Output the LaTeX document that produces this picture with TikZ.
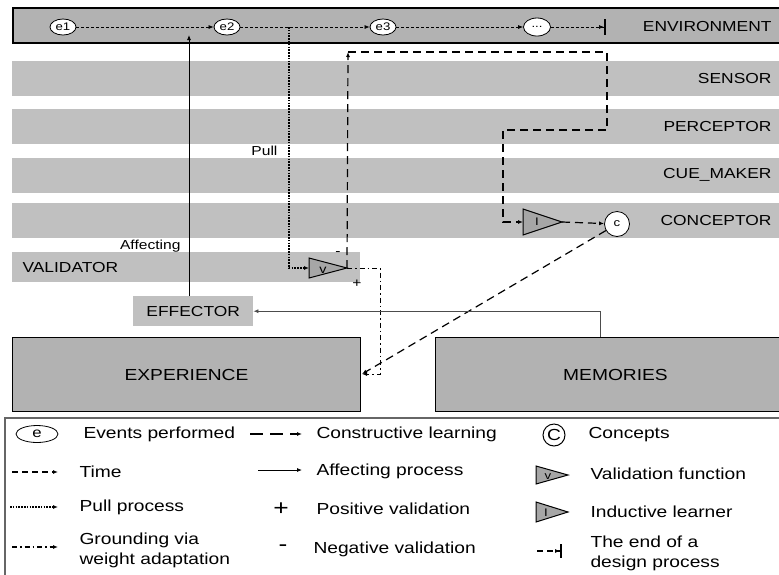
\documentclass[tikz,border=0pt]{standalone}
\usepackage{fontspec}
\setmainfont{Liberation Sans}[FakeStretch=1.2]
\usepackage{tikz}
\usetikzlibrary{arrows.meta}
\usetikzlibrary{positioning}
\usetikzlibrary{shapes.geometric}
\definecolor{darkband}{HTML}{B2B2B2}
\definecolor{lightband}{HTML}{C0C0C0}
\definecolor{trifill}{HTML}{A6A6A6}

\begin{document}
\begin{tikzpicture}[
    x=1pt, y=-1pt,
    band/.style={%
      fill=lightband,
      inner sep=0,
      anchor=north west,
      minimum width=767pt,
      minimum height=35pt,
      font=\fontsize{14.5}{16}\selectfont,
    },
    box/.style={%
      draw,
      line width=1pt,
      fill=darkband,
      inner sep=0,
      anchor=north west,
      minimum height=74pt,
      font=\fontsize{16}{18}\selectfont,
    },
    lane/.style={anchor=east, font=\fontsize{14.5}{16}\selectfont},
    event/.style={%
      draw,
      ellipse,
      fill=white,
      line width=0.8pt,
      inner sep=0,
      minimum width=26pt,
      minimum height=16pt,
      font=\fontsize{11}{12}\selectfont,
    },
    arrowhd/.style={-{Latex[length=5pt,width=4pt]}},
    time/.style={arrowhd, line width=0.7pt, dash pattern=on 3pt off 2pt},
    pull/.style={arrowhd, line width=2.2pt, dash pattern=on 1.5pt off 1.3pt},
    learn/.style={arrowhd, line width=1.2pt, dash pattern=on 8pt off 5pt},
    ground/.style={arrowhd, line width=1pt, dash pattern=on 5pt off 3pt on 1.5pt off 3pt},
    affect/.style={arrowhd, line width=0.8pt},
    tri/.style={draw, line width=1pt, fill=trifill},
    legtext/.style={anchor=west, align=left, font=\fontsize{16}{20}\selectfont},
    small/.style={font=\fontsize{13}{14}\selectfont},
  ]

    \useasboundingbox (0,0) rectangle (779,574);

    \node [box, line width=1.6pt, minimum width=780pt, minimum height=35pt] (env) at (12,7) {};
    \node [band] (sensor) at (12,61) {};
    \node [band] (perceptor) at (12,109) {};
    \node [band] (cuemaker) at (12,158) {};
    \node [band] (conceptor) at (12,203) {};
    \node [band, minimum width=348pt, minimum height=30pt] (validator) at (12,252) {};
    \node [band, minimum width=120pt, minimum height=30pt] (effector) at (133,296) {EFFECTOR};
    \node [box, minimum width=348pt] (experience) at (12,337) {EXPERIENCE};
    \node [box, minimum width=360pt] (memories) at (435,337) {MEMORIES};

    \node [lane] (envlbl) at (775,27) {ENVIRONMENT};
    \node [lane] (sensorlbl) at (775,79) {SENSOR};
    \node [lane] (perceptorlbl) at (775,127) {PERCEPTOR};
    \node [lane] (cuemakerlbl) at (775,175) {CUE\_MAKER};
    \node [lane] (conceptorlbl) at (775,221) {CONCEPTOR};
    \node [lane, anchor=west] (validatorlbl) at (19,268) {VALIDATOR};

    \node [event] (e1) at (63,27) {e1};
    \node [event] (e2) at (227,27) {e2};
    \node [event] (e3) at (383,27) {e3};
    \node [event, minimum width=27pt, minimum height=18pt] (edots) at (537,27) {...};
    \coordinate (endbar) at (606,27);

    \draw [time] (e1) -- (e2);
    \draw [time] (e2) -- (e3);
    \draw [time] (e3) -- (edots);
    \draw [time, -{Latex[length=5pt,width=4pt]Bar[width=16pt,line width=2pt]}] (edots) -- (endbar);

    \coordinate (vin) at (309,268);
    \coordinate (vtip) at (347,268);
    \draw [tri] (309,258) -- (vtip) -- (309,278) -- cycle;
    \node [font=\fontsize{12}{12}\selectfont] (vlbl) at (323,270) {v};
    \node [small] (minus) at (338,254) {-};
    \node [small] (plus) at (357,284) {+};

    \coordinate (iin) at (523,222);
    \coordinate (itip) at (562,222);
    \draw [tri] (523,209) -- (itip) -- (523,235) -- cycle;
    \node [font=\fontsize{11}{12}\selectfont] (ilbl) at (537,222) {I};
    \node [event, circle, minimum size=25pt] (concept) at (617,224) {c};

    \coordinate (pullsrc) at (289,27);
    \draw [pull] (pullsrc) |- (vin);
    \node [small, anchor=east] (pulllbl) at (281,151) {Pull};

    \coordinate (lcorner) at (348,52);
    \coordinate (lturn) at (607,130);
    \draw [learn] (vtip) -- (lcorner);
    \draw [learn] (lcorner) -| (lturn) -- ++(-104,0) |- (iin);
    \draw [learn] (itip) -- (concept);
    \coordinate (expin) at (362,374);
    \draw [learn] (concept) -- (expin);
    \draw [ground] (vtip) -- ++(33,0) |- (expin);

    \coordinate (affin) at (189,35);
    \draw [affect] (affin |- effector.north) -- (affin);
    \node [small, anchor=east] (afflbl) at (184,246) {Affecting};
    \coordinate (memout) at (600,337);
    \draw [affect, black!70] (memout) |- (effector.east);

    \node [draw=black!60, line width=1.5pt, anchor=north west, minimum width=790pt, minimum height=170pt] (legendbox) at (4,417) {};

    \node [event, minimum width=42pt, minimum height=17pt, font=\fontsize{14}{14}\selectfont] (keyevent) at (37,434) {e};
    \coordinate (ktime0) at (12,472);
    \coordinate (ktime1) at (58,472);
    \draw [time, line width=1.3pt, dash pattern=on 6pt off 4pt] (ktime0) -- (ktime1);
    \coordinate (kpull0) at (10,507);
    \coordinate (kpull1) at (58,507);
    \draw [pull, line width=1.2pt] (kpull0) -- (kpull1);
    \coordinate (kground0) at (12,547);
    \coordinate (kground1) at (58,547);
    \draw [ground, line width=1.3pt] (kground0) -- (kground1);

    \node [legtext] (kevent) at (80,434) {Events performed};
    \node [legtext] (ktime) at (76,472) {Time};
    \node [legtext] (kpull) at (76,507) {Pull process};
    \node [legtext] (kground) at (76,550) {Grounding via\\weight adaptation};

    \coordinate (klearn0) at (250,434);
    \coordinate (klearn1) at (302,434);
    \draw [learn, line width=1.5pt, dash pattern=on 13pt off 7pt] (klearn0) -- (klearn1);
    \coordinate (kaffect0) at (258,470);
    \coordinate (kaffect1) at (302,470);
    \draw [affect] (kaffect0) -- (kaffect1);
    \node [font=\fontsize{22}{22}\selectfont] (kplus) at (281,509) {+};
    \node [font=\fontsize{22}{22}\selectfont] (kminus) at (283,548) {-};

    \node [legtext] (klearn) at (313,434) {Constructive learning};
    \node [legtext] (kaffect) at (313,471) {Affecting process};
    \node [legtext] (kpos) at (313,509) {Positive validation};
    \node [legtext] (kneg) at (310,549) {Negative validation};

    \node [draw, circle, line width=1pt, minimum size=22pt, inner sep=0, font=\fontsize{16}{16}\selectfont] (kconcept) at (554,435) {C};
    \coordinate (kvtip) at (568,475);
    \draw [tri] (536,466) -- (kvtip) -- (536,484) -- cycle;
    \node [font=\fontsize{11}{12}\selectfont] (kvlbl) at (548,477) {v};
    \coordinate (kitip) at (568,512);
    \draw [tri] (536,502) -- (kitip) -- (536,522) -- cycle;
    \node [font=\fontsize{11}{12}\selectfont] (kilbl) at (546,513) {I};
    \coordinate (kend0) at (537,551);
    \coordinate (kend1) at (562,551);
    \draw [time, line width=1.3pt, dash pattern=on 6pt off 4pt, -{Latex[length=5pt,width=4pt]Bar[width=14pt,line width=2pt]}] (kend0) -- (kend1);

    \node [legtext] (kconceptlbl) at (585,435) {Concepts};
    \node [legtext] (kvalid) at (587,474) {Validation function};
    \node [legtext] (kinduct) at (587,512) {Inductive learner};
    \node [legtext] (kendlbl) at (587,553) {The end of a\\design process};
\end{tikzpicture}
\end{document}
